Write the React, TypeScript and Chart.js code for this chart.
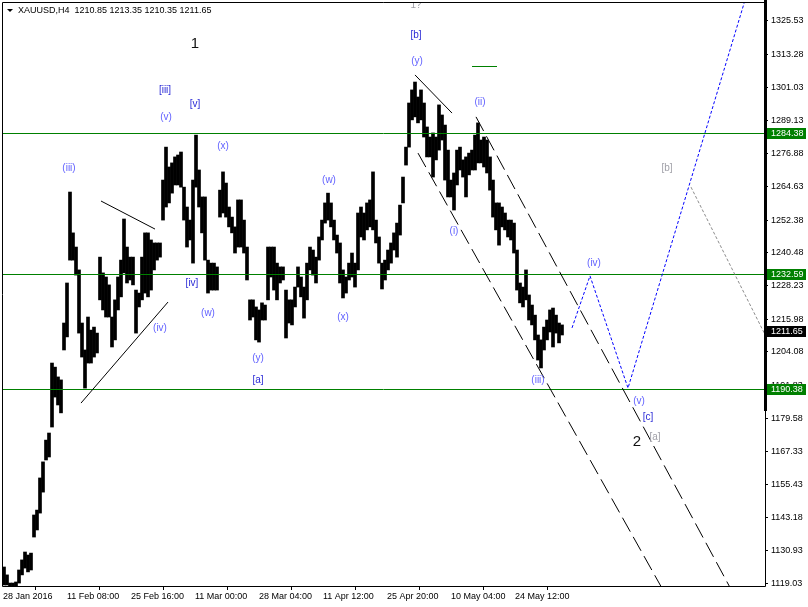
import React, { useEffect, useRef } from "react";
import { Chart, registerables } from "chart.js";

Chart.register(...registerables);

// ---- Data (XAUUSD H4, one entry per 12h block = 3 H4 bars) ----
const highs: number[] = [
  1125.0, 1122.1, 1119.1, 1119.1, 1119.5, 1123.9, 1127.6, 1130.5, 1129.4, 1130.1,
  1144.1, 1145.9, 1157.7, 1163.6, 1171.6, 1174.2, 1199.9, 1198.4, 1194.8, 1193.7,
  1214.6, 1229.3, 1262.7, 1247.7, 1242.5, 1234.1, 1214.6, 1204.7, 1216.8, 1212.0,
  1213.1, 1210.9, 1238.8, 1233.0, 1231.5, 1228.6, 1216.8, 1223.1, 1231.5, 1237.7,
  1252.8, 1242.5, 1238.8, 1238.8, 1226.7, 1225.6, 1238.8, 1247.7, 1247.7, 1245.1,
  1244.0, 1244.0, 1244.0, 1267.1, 1279.2, 1271.9, 1273.4, 1275.6, 1276.3, 1277.4,
  1264.5, 1257.2, 1252.4, 1267.1, 1283.6, 1270.8, 1260.9, 1260.9, 1237.7, 1236.6,
  1236.6, 1235.2, 1263.4, 1270.1, 1266.0, 1257.2, 1253.5, 1249.9, 1259.8, 1259.8,
  1252.4, 1242.5, 1223.1, 1223.1, 1220.5, 1219.4, 1222.0, 1221.2, 1242.5, 1242.5,
  1242.5, 1236.6, 1235.2, 1235.2, 1226.7, 1223.1, 1223.1, 1227.8, 1235.2, 1231.5,
  1227.8, 1236.6, 1242.5, 1241.4, 1238.8, 1246.2, 1252.4, 1258.7, 1262.3, 1258.7,
  1252.4, 1246.9, 1244.0, 1234.1, 1231.5, 1236.6, 1240.3, 1236.6, 1255.0, 1257.2,
  1255.0, 1258.7, 1259.8, 1270.1, 1252.4, 1246.2, 1236.6, 1237.7, 1241.4, 1244.0,
  1247.7, 1251.3, 1257.9, 1268.2, 1279.2, 1295.4, 1300.2, 1303.1, 1297.6, 1300.2,
  1295.4, 1286.6, 1282.9, 1284.4, 1282.9, 1294.7, 1291.0, 1287.3, 1278.1, 1267.1,
  1269.7, 1278.1, 1279.2, 1274.5, 1275.6, 1277.0, 1278.1, 1283.6, 1288.1, 1281.8,
  1282.9, 1281.8, 1275.6, 1267.1, 1258.7, 1258.7, 1257.2, 1255.0, 1252.4, 1252.4,
  1251.3, 1241.4, 1229.3, 1227.8, 1234.1, 1224.9, 1221.2, 1217.5, 1210.2, 1208.4,
  1213.1, 1215.7, 1219.4, 1220.1, 1217.5, 1214.6, 1213.9,
];
const lows: number[] = [
  1118.4, 1118.4, 1118.0, 1118.0, 1118.0, 1119.1, 1122.1, 1124.6, 1123.2, 1123.9,
  1136.0, 1138.6, 1144.8, 1152.5, 1164.3, 1165.4, 1176.4, 1187.4, 1184.5, 1181.6,
  1204.7, 1209.5, 1237.7, 1237.7, 1232.2, 1210.9, 1202.1, 1190.7, 1199.9, 1199.9,
  1202.1, 1203.6, 1223.1, 1219.4, 1216.8, 1216.8, 1205.8, 1208.4, 1219.4, 1224.2,
  1233.0, 1229.3, 1230.4, 1228.6, 1210.9, 1220.5, 1223.1, 1225.6, 1224.2, 1226.7,
  1234.1, 1237.7, 1238.8, 1252.4, 1257.2, 1258.7, 1262.3, 1265.3, 1265.3, 1264.5,
  1252.4, 1242.5, 1245.1, 1236.6, 1264.5, 1257.2, 1247.7, 1237.7, 1225.6, 1226.7,
  1226.7, 1226.7, 1253.5, 1255.0, 1253.5, 1249.9, 1247.7, 1240.3, 1242.5, 1242.5,
  1240.3, 1230.4, 1215.7, 1216.8, 1208.4, 1207.6, 1215.7, 1215.7, 1223.1, 1231.5,
  1226.7, 1223.1, 1229.3, 1230.4, 1209.1, 1214.6, 1213.9, 1220.5, 1227.8, 1224.2,
  1216.4, 1223.1, 1234.1, 1232.2, 1229.3, 1237.7, 1245.1, 1251.3, 1252.4, 1249.9,
  1245.1, 1240.3, 1229.3, 1223.8, 1225.6, 1230.4, 1231.5, 1227.8, 1234.1, 1246.2,
  1245.1, 1248.8, 1249.9, 1248.8, 1244.0, 1236.6, 1227.1, 1230.4, 1234.1, 1236.6,
  1241.4, 1238.8, 1246.9, 1258.7, 1272.6, 1279.2, 1289.2, 1290.3, 1288.1, 1289.2,
  1282.9, 1275.6, 1275.6, 1268.2, 1274.5, 1278.1, 1281.8, 1267.1, 1260.9, 1260.9,
  1256.1, 1265.3, 1270.8, 1268.2, 1260.9, 1269.0, 1270.8, 1270.8, 1273.4, 1273.4,
  1271.9, 1269.7, 1263.4, 1253.5, 1248.8, 1243.2, 1249.9, 1248.8, 1246.2, 1245.1,
  1240.3, 1226.7, 1222.0, 1220.5, 1223.1, 1215.7, 1213.9, 1208.4, 1201.0, 1198.1,
  1204.7, 1208.4, 1211.3, 1205.8, 1210.9, 1207.3, 1210.2,
];
// bar position (in H4 bars since 28 Jan 2016) of each 12h block
const barTimes: number[] = highs.map((_, i) => 1 + 3 * i);

const dateTickBars: number[] = [0, 64, 128, 192, 256, 320, 384, 448, 512];
const dateLabels: string[] = [
  "28 Jan 2016", "11 Feb 08:00", "25 Feb 16:00", "11 Mar 00:00", "28 Mar 04:00",
  "11 Apr 12:00", "25 Apr 20:00", "10 May 04:00", "24 May 12:00",
];
const priceTicks: number[] = [
  1325.53, 1313.28, 1301.03, 1289.13, 1276.88, 1264.63, 1252.38, 1240.48, 1228.23,
  1215.98, 1204.08, 1191.83, 1179.58, 1167.33, 1155.43, 1143.18, 1130.93, 1119.03,
];

const levelPrices: number[] = [1284.38, 1232.59, 1190.38];
const lastPrice = 1211.65;
const titleText = "XAUUSD,H4  1210.85 1213.35 1210.35 1211.65";

// Elliott wave labels
const waveText: string[] = [
  "1", "[iii]", "[v]", "(v)", "(x)", "(iii)", "(w)", "(iv)", "[iv]", "(w)", "(y)", "[a]",
  "(x)", "1?", "[b]", "(y)", "(ii)", "(i)", "(iii)", "(iv)", "(v)", "[c]", "2", "[a]", "[b]",
];
const waveBar: number[] = [
  192, 162, 192, 163, 220, 66, 326, 157, 189, 205, 255, 255,
  340, 413, 413, 414, 477, 451, 535, 591, 636, 645, 634, 652, 664,
];
const wavePrice: number[] = [
  1317.1, 1300.2, 1295.0, 1290.3, 1279.6, 1271.5, 1267.1, 1212.8, 1229.3, 1218.3, 1201.7, 1193.7,
  1216.8, 1331.4, 1320.4, 1310.8, 1295.8, 1248.4, 1193.7, 1236.6, 1186.0, 1180.1, 1170.9, 1172.7, 1271.5,
];
// 0 = major degree (black), 1 = bracket blue, 2 = paren violet, 3 = grey alternative
const waveKind: number[] = [
  0, 1, 1, 2, 2, 2, 2, 2, 1, 2, 2, 1,
  2, 3, 1, 2, 2, 2, 2, 2, 2, 1, 0, 3, 3,
];

// trend lines: start bar/price, end bar/price, style (0 solid, 1 dashed)
const lineBar1: number[] = [98, 78, 412, 473, 415];
const linePrice1: number[] = [1259.4, 1185.2, 1305.7, 1290.3, 1277.0];
const lineBar2: number[] = [152, 165, 449, 738, 670];
const linePrice2: number[] = [1249.1, 1222.3, 1291.7, 1110.0, 1110.0];
const lineStyle: number[] = [0, 0, 0, 1, 1];

// small green horizontal segment
const greenSegBars: number[] = [469, 494];
const greenSegPrice = 1309.0;

// projected paths
const blueBars: number[] = [569, 587, 625, 745];
const bluePrices: number[] = [1212.8, 1231.9, 1190.7, 1336.8];
const greyBars: number[] = [688, 770];
const greyPrices: number[] = [1264.5, 1204.5];

const FONT = "'Liberation Sans', Arial, sans-serif";

const zeroPad = (s: any) => {
  s.paddingTop = 0;
  s.paddingBottom = 0;
  s.paddingLeft = 0;
  s.paddingRight = 0;
};

const overlayPlugin = {
  id: "mt4Overlay",
  afterDatasetsDraw(chart: any) {
    const { ctx, chartArea: a, scales } = chart;
    const x = scales.x;
    const y = scales.y;
    const px = (t: number) => x.getPixelForValue(t);
    const py = (p: number) => y.getPixelForValue(p);
    ctx.save();
    ctx.beginPath();
    ctx.rect(a.left, a.top, a.right - a.left, a.bottom - a.top);
    ctx.clip();

    // horizontal levels
    ctx.strokeStyle = "#008000";
    ctx.lineWidth = 1;
    levelPrices.forEach((p) => {
      const yy = Math.round(py(p)) + 0.5;
      ctx.beginPath();
      ctx.moveTo(a.left, yy);
      ctx.lineTo(a.right, yy);
      ctx.stroke();
    });
    {
      const yy = Math.round(py(greenSegPrice)) + 0.5;
      ctx.beginPath();
      ctx.moveTo(px(greenSegBars[0]), yy);
      ctx.lineTo(px(greenSegBars[1]), yy);
      ctx.stroke();
    }

    // trend lines
    ctx.strokeStyle = "#000";
    lineBar1.forEach((b, i) => {
      ctx.setLineDash(lineStyle[i] === 1 ? [16, 6] : []);
      ctx.beginPath();
      ctx.moveTo(px(b), py(linePrice1[i]));
      ctx.lineTo(px(lineBar2[i]), py(linePrice2[i]));
      ctx.stroke();
    });

    // projections
    ctx.setLineDash([3, 2]);
    ctx.strokeStyle = "#0000ff";
    ctx.beginPath();
    blueBars.forEach((b, i) => {
      if (i === 0) ctx.moveTo(px(b), py(bluePrices[i]));
      else ctx.lineTo(px(b), py(bluePrices[i]));
    });
    ctx.stroke();
    ctx.strokeStyle = "#8c8c8c";
    ctx.beginPath();
    greyBars.forEach((b, i) => {
      if (i === 0) ctx.moveTo(px(b), py(greyPrices[i]));
      else ctx.lineTo(px(b), py(greyPrices[i]));
    });
    ctx.stroke();
    ctx.setLineDash([]);

    // wave labels
    ctx.textAlign = "center";
    ctx.textBaseline = "middle";
    const kindColor = ["#111111", "#2b2bd6", "#6262ff", "#a0a0a8"];
    waveText.forEach((txt, i) => {
      const k = waveKind[i];
      ctx.font = k === 0 ? `15px ${FONT}` : `10px ${FONT}`;
      ctx.fillStyle = kindColor[k];
      ctx.fillText(txt, px(waveBar[i]), py(wavePrice[i]));
    });
    ctx.restore();
  },
  afterDraw(chart: any) {
    const { ctx, chartArea: a, scales } = chart;
    const y = scales.y;
    ctx.save();
    // frame
    ctx.strokeStyle = "#000";
    ctx.lineWidth = 1;
    ctx.beginPath();
    ctx.moveTo(a.left + 0.5, a.top + 0.5);
    ctx.lineTo(a.right, a.top + 0.5);
    ctx.moveTo(a.left + 0.5, a.top + 0.5);
    ctx.lineTo(a.left + 0.5, a.bottom + 0.5);
    ctx.lineTo(a.right + 0.5, a.bottom + 0.5);
    ctx.moveTo(a.right + 0.5, a.top);
    ctx.lineTo(a.right + 0.5, a.bottom + 0.5);
    ctx.stroke();
    ctx.fillStyle = "#000";
    ctx.fillRect(a.right - 1, 0, 3, 411);

    // price boxes on the right axis
    ctx.font = `9px ${FONT}`;
    ctx.textAlign = "left";
    ctx.textBaseline = "middle";
    const drawBox = (p: number, bg: string) => {
      const yy = Math.round(y.getPixelForValue(p));
      ctx.fillStyle = bg;
      ctx.fillRect(a.right + 2, yy - 5, 39, 11);
      ctx.fillStyle = "#fff";
      ctx.fillText(p.toFixed(2), a.right + 6, yy + 0.5);
    };
    levelPrices.forEach((p) => drawBox(p, "#008000"));
    drawBox(lastPrice, "#000000");

    // title
    ctx.fillStyle = "#000";
    ctx.beginPath();
    ctx.moveTo(7, 9);
    ctx.lineTo(13, 9);
    ctx.lineTo(10, 12);
    ctx.closePath();
    ctx.fill();
    ctx.font = `9px ${FONT}`;
    ctx.textAlign = "left";
    ctx.fillText(titleText, 18, 11);
    ctx.restore();
  },
};

export default function App() {
  const canvasRef = useRef<HTMLCanvasElement | null>(null);

  useEffect(() => {
    const canvas = canvasRef.current;
    if (!canvas) return;
    const chart = new Chart(canvas, {
      type: "bar",
      data: {
        datasets: [
          {
            data: highs.map((h, i) => ({ x: barTimes[i], y: [lows[i], h] })) as any,
            backgroundColor: "#000000",
            borderWidth: 0,
            barPercentage: 1,
            categoryPercentage: 1,
            grouped: false,
          },
        ],
      },
      options: {
        animation: false,
        responsive: false,
        devicePixelRatio: 1,
        events: [],
        layout: { padding: { top: 2, left: 2, right: 0, bottom: 0 }, autoPadding: false },
        plugins: { legend: { display: false }, tooltip: { enabled: false } },
        scales: {
          x: {
            type: "linear",
            position: "bottom",
            min: -1,
            max: 762,
            offset: false,
            afterBuildTicks: (s: any) => {
              s.ticks = dateTickBars.map((v) => ({ value: v }));
            },
            afterFit: (s: any) => {
              s.height = 21;
              zeroPad(s);
            },
            grid: { drawOnChartArea: false, drawTicks: true, tickLength: 4, color: "#000" },
            border: { display: false },
            ticks: {
              autoSkip: false,
              maxRotation: 0,
              minRotation: 0,
              align: "start",
              padding: 1,
              color: "#000",
              font: { family: FONT, size: 9 },
              callback: (_v: any, i: number) => dateLabels[i],
            },
          },
          y: {
            type: "linear",
            position: "right",
            min: 1118.02,
            max: 1332.49,
            afterBuildTicks: (s: any) => {
              s.ticks = priceTicks.map((v) => ({ value: v }));
            },
            afterFit: (s: any) => {
              s.width = 43;
              zeroPad(s);
            },
            grid: { drawOnChartArea: false, drawTicks: true, tickLength: 3, color: "#000" },
            border: { display: false },
            ticks: {
              autoSkip: false,
              padding: 3,
              color: "#000",
              font: { family: FONT, size: 9 },
              callback: (v: any) => Number(v).toFixed(2),
            },
          },
        },
      } as any,
      plugins: [overlayPlugin],
    });
    return () => chart.destroy();
  }, []);

  return (
    <div style={{ position: "fixed", left: 0, top: 0, width: 808, height: 607, background: "#fff" }}>
      <canvas ref={canvasRef} width={808} height={607} style={{ display: "block" }} />
    </div>
  );
}
